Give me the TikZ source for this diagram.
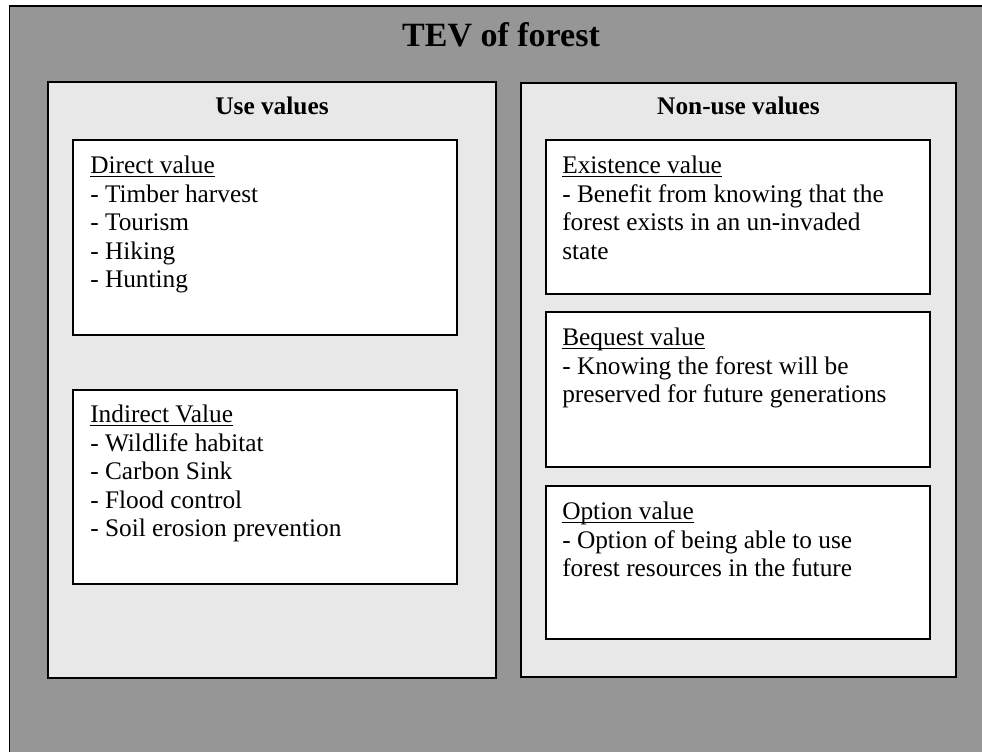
\documentclass[tikz,border=0pt]{standalone}
\usepackage{fontspec}
\setmainfont{Liberation Serif}
\definecolor{outergray}{gray}{0.588}
\definecolor{panelgray}{gray}{0.91}
\newcommand\hdrline[1]{\setbox0\hbox{#1}\rlap{\rule[-2.6pt]{\wd0}{1.1pt}}\box0}
\tikzset{
  panelbox/.style={draw=black, line width=1.2pt, fill=panelgray},
  valbox/.style={draw=black, line width=1.1pt, fill=white},
  heading/.style={anchor=base, inner sep=0pt, font=\fontsize{19pt}{21.4pt}\selectfont\bfseries},
  bodytext/.style={anchor=north west, inner sep=0pt, align=left, font=\fontsize{19pt}{21.4pt}\selectfont},
}
\begin{document}
\begin{tikzpicture}[x=0.75pt, y=-0.75pt]
\useasboundingbox (0,0) rectangle (982,752);
\clip (0,0) rectangle (982,752);
\fill[white] (0,0) rectangle (982,752);
% outer
\draw[fill=outergray, line width=1.2pt] (9.5,6) rectangle (995,765);
\node[anchor=base, inner sep=0pt, font=\fontsize{25.5pt}{30pt}\selectfont\bfseries] (title) at (501,47) {TEV of forest};
% panels
\draw[panelbox] (48,82) rectangle (496,678);
\draw[panelbox] (521,83) rectangle (956,677);
\node[heading] (usehead) at (272,115) {Use values};
\node[heading] (nonusehead) at (738.5,115) {Non-use values};
% left boxes
\draw[valbox] (73,140) rectangle (457,335);
\draw[valbox] (73,390) rectangle (457,584);
% right boxes
\draw[valbox] (546,140) rectangle (930,294);
\draw[valbox] (546,312) rectangle (930,467);
\draw[valbox] (546,486) rectangle (930,639);
% texts
\node[bodytext] (direct) at (90,156) {\hdrline{Direct value}\\- Timber harvest\\- Tourism\\- Hiking\\- Hunting};
\node[bodytext] (indirect) at (90,405) {\hdrline{Indirect Value}\\- Wildlife habitat\\- Carbon Sink\\- Flood control\\- Soil erosion prevention};
\node[bodytext] (existence) at (562,156) {\hdrline{Existence value}\\- Benefit from knowing that the\\forest exists in an un-invaded\\state};
\node[bodytext] (bequest) at (562,328) {\hdrline{Bequest value}\\- Knowing the forest will be\\preserved for future generations};
\node[bodytext] (option) at (562,502) {\hdrline{Option value}\\- Option of being able to use\\forest resources in the future};
\end{tikzpicture}
\end{document}
